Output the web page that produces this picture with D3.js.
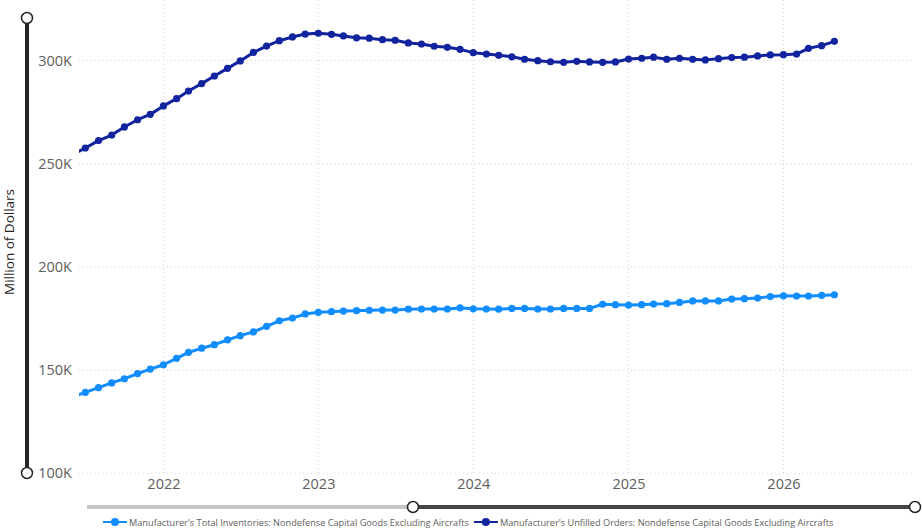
<!DOCTYPE html>
<html>
<head>
<meta charset="utf-8">
<script src="https://cdn.jsdelivr.net/npm/d3@7"></script>
<style>
  body { margin: 0; background: #fff; }
  svg { display: block; font-family: "Segoe UI", "Open Sans", sans-serif; }
</style>
</head>
<body>
<div id="chart"></div>
<script>
// monthly observations (first of month), thousands of dollars
const months = [
  "2021-06","2021-07","2021-08","2021-09","2021-10","2021-11","2021-12",
  "2022-01","2022-02","2022-03","2022-04","2022-05","2022-06","2022-07","2022-08","2022-09","2022-10","2022-11","2022-12",
  "2023-01","2023-02","2023-03","2023-04","2023-05","2023-06","2023-07","2023-08","2023-09","2023-10","2023-11","2023-12",
  "2024-01","2024-02","2024-03","2024-04","2024-05","2024-06","2024-07","2024-08","2024-09","2024-10","2024-11","2024-12",
  "2025-01","2025-02","2025-03","2025-04","2025-05","2025-06","2025-07","2025-08","2025-09","2025-10","2025-11","2025-12",
  "2026-01","2026-02","2026-03","2026-04","2026-05"
];
const inventories = [
  137.0,139.2,141.5,143.8,145.8,148.3,150.5,
  152.6,155.7,158.6,160.6,162.3,164.6,166.7,168.5,171.2,173.9,175.2,177.2,
  178.0,178.3,178.6,178.8,179.0,179.1,179.1,179.5,179.6,179.6,179.6,180.1,
  179.7,179.6,179.5,179.9,179.9,179.6,179.6,179.9,179.9,179.9,181.9,181.7,
  181.5,181.7,182.0,182.2,182.8,183.5,183.5,183.5,184.4,184.6,184.9,185.6,
  186.0,185.9,185.9,186.2,186.5
];
const unfilled = [
  254.5,257.6,261.2,263.9,267.8,271.3,273.9,
  278.0,281.5,285.2,288.8,292.5,296.2,299.8,303.9,307.0,309.6,311.4,312.8,
  313.2,312.7,311.9,311.0,310.8,310.1,309.8,308.5,308.0,306.9,306.4,305.4,
  303.8,303.1,302.5,301.8,300.6,299.9,299.4,299.1,299.6,299.3,299.1,299.3,
  300.7,301.1,301.6,300.6,301.1,300.6,300.3,300.9,301.4,301.6,302.2,302.7,
  302.8,303.1,305.9,307.2,309.3
];
const yTicks = [100, 150, 200, 250, 300];
const seriesNames = [
  "Manufacturer's Total Inventories: Nondefense Capital Goods Excluding Aircrafts",
  "Manufacturer's Unfilled Orders: Nondefense Capital Goods Excluding Aircrafts"
];
const seriesColors = ["#118DFF", "#12239E"];

const w = 922, h = 530;
const plot = {left: 79, right: 915, top: 0, bottom: 476};

const parse = d3.timeParse("%Y-%m");
const dates = months.map(parse);
const series = [inventories, unfilled].map((vals, i) => ({
  name: seriesNames[i],
  color: seriesColors[i],
  values: vals.map((v, j) => ({date: dates[j], value: v}))
}));

const xScale = d3.scaleTime()
  .domain([new Date(2021, 5, 16), new Date(2026, 10, 7)])
  .range([plot.left, plot.right]);
const yScale = d3.scaleLinear()
  .domain([100, 300])
  .range([473.3, 60.5]);

const svg = d3.select("#chart").append("svg")
  .attr("width", w)
  .attr("height", h);

svg.append("defs").append("clipPath")
  .attr("id", "clip")
  .append("rect")
  .attr("x", plot.left).attr("y", plot.top)
  .attr("width", plot.right - plot.left).attr("height", plot.bottom - plot.top);

/** gridlines */
const xTicks = d3.timeYear.range(new Date(2022, 0, 1), new Date(2027, 0, 1));
svg.append("g").selectAll("line")
  .data(xTicks)
  .join("line")
  .attr("x1", d => xScale(d)).attr("x2", d => xScale(d))
  .attr("y1", plot.top).attr("y2", plot.bottom)
  .attr("stroke", "#d6d6d6")
  .attr("stroke-dasharray", "1,3");

svg.append("g").selectAll("line")
  .data(yTicks)
  .join("line")
  .attr("x1", plot.left).attr("x2", plot.right)
  .attr("y1", d => yScale(d)).attr("y2", d => yScale(d))
  .attr("stroke", "#d6d6d6")
  .attr("stroke-dasharray", "1,3");

/** axes */
const yAxis = d3.axisLeft(yScale)
  .tickValues(yTicks)
  .tickFormat(d => d + "K")
  .tickSize(0)
  .tickPadding(0);
svg.append("g")
  .attr("transform", "translate(72,0)")
  .call(yAxis)
  .call(g => g.select(".domain").remove())
  .call(g => g.selectAll("text")
    .attr("fill", "#605E5C")
    .style("font-size", "14.5px")
    .style("font-family", "\"Segoe UI\", \"Open Sans\", sans-serif"));

const xAxis = d3.axisBottom(xScale)
  .tickValues(xTicks)
  .tickFormat(d3.timeFormat("%Y"))
  .tickSize(0)
  .tickPadding(0);
svg.append("g")
  .attr("transform", "translate(0,479)")
  .call(xAxis)
  .call(g => g.select(".domain").remove())
  .call(g => g.selectAll("text")
    .attr("fill", "#605E5C")
    .style("font-size", "14.5px")
    .style("font-family", "\"Segoe UI\", \"Open Sans\", sans-serif"));

/** y axis title */
svg.append("text")
  .attr("transform", "translate(14,242) rotate(-90)")
  .attr("text-anchor", "middle")
  .attr("fill", "#252423")
  .style("font-size", "13.5px")
  .text("Million of Dollars");

/** lines and markers */
const line = d3.line()
  .x(d => xScale(d.date))
  .y(d => yScale(d.value));

const plotG = svg.append("g").attr("clip-path", "url(#clip)");
series.forEach(s => {
  plotG.append("path")
    .datum(s.values)
    .attr("fill", "none")
    .attr("stroke", s.color)
    .attr("stroke-width", 3)
    .attr("stroke-linejoin", "round")
    .attr("d", line);
  plotG.append("g").selectAll("circle")
    .data(s.values)
    .join("circle")
    .attr("cx", d => xScale(d.date))
    .attr("cy", d => yScale(d.value))
    .attr("r", 3.6)
    .attr("fill", s.color);
});

/** zoom sliders */
const vSlider = svg.append("g");
vSlider.append("line")
  .attr("x1", 27).attr("x2", 27).attr("y1", 18).attr("y2", 473)
  .attr("stroke", "#252423").attr("stroke-width", 4);
vSlider.selectAll("circle")
  .data([18, 473])
  .join("circle")
  .attr("cx", 27).attr("cy", d => d).attr("r", 5.5)
  .attr("fill", "#fff").attr("stroke", "#252423").attr("stroke-width", 1.5);

const hSlider = svg.append("g");
hSlider.append("line")
  .attr("x1", 87).attr("x2", 413).attr("y1", 507).attr("y2", 507)
  .attr("stroke", "#c8c6c4").attr("stroke-width", 4);
hSlider.append("line")
  .attr("x1", 413).attr("x2", 915).attr("y1", 507).attr("y2", 507)
  .attr("stroke", "#484644").attr("stroke-width", 4);
hSlider.selectAll("circle")
  .data([413, 915])
  .join("circle")
  .attr("cx", d => d).attr("cy", 507).attr("r", 5.5)
  .attr("fill", "#fff").attr("stroke", "#252423").attr("stroke-width", 1.5);

/** legend */
const legend = svg.append("g").attr("transform", "translate(0,522)");
let lx = 103;
series.forEach(s => {
  const item = legend.append("g").attr("transform", "translate(" + lx + ",0)");
  item.append("line")
    .attr("x1", 0).attr("x2", 24).attr("y1", 0).attr("y2", 0)
    .attr("stroke", s.color).attr("stroke-width", 2);
  item.append("circle")
    .attr("cx", 12).attr("cy", 0).attr("r", 4)
    .attr("fill", s.color);
  const t = item.append("text")
    .attr("x", 26).attr("y", 3.5)
    .attr("fill", "#605E5C")
    .style("font-size", "9.2px")
    .text(s.name);
  lx += 26 + t.node().getComputedTextLength() + 5;
});
</script>
</body>
</html>
